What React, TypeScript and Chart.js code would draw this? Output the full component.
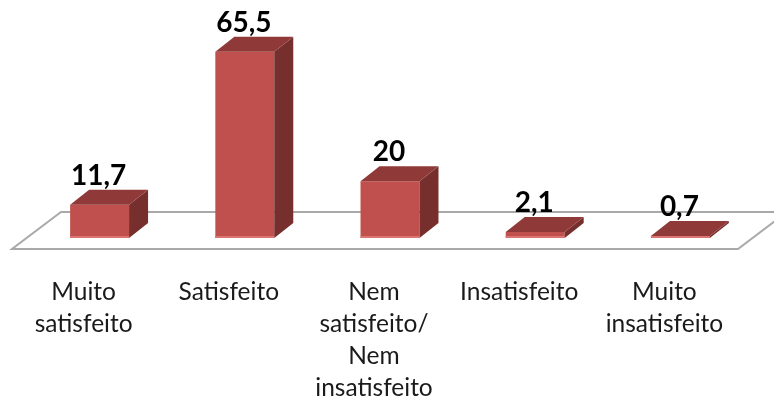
import React, { useEffect, useRef } from "react";
import { Chart, registerables } from "chart.js";

Chart.register(...registerables);

const categories: string[][] = [
  ["Muito", "satisfeito"],
  ["Satisfeito"],
  ["Nem", "satisfeito/", "Nem", "insatisfeito"],
  ["Insatisfeito"],
  ["Muito", "insatisfeito"],
];
const values: number[] = [11.7, 65.5, 20, 2.1, 0.7];
const valueLabels: string[] = ["11,7", "65,5", "20", "2,1", "0,7"];

const DEPTH_X = 19;
const DEPTH_Y = 15;
const FONT = "Lato, 'Open Sans', sans-serif";
const LABEL_SHIFT = -16;

const bars3d = {
  id: "bars3d",
  beforeDraw(chart: any) {
    const scale = chart.scales.x;
    if (scale.$shifted === scale._labelItems && scale._labelItems) return;
    const items = scale.getLabelItems(chart.chartArea);
    items.forEach((it: any) => {
      it.options.translation = [it.options.translation[0] + LABEL_SHIFT, it.options.translation[1]];
    });
    scale.$shifted = items;
  },
  beforeDatasetsDraw(chart: any) {
    const { ctx, chartArea } = chart;
    const bottom = chartArea.bottom;
    const frontY = bottom + 11;
    const backY = bottom - 26;
    const left = chartArea.left - 15;
    const right = chartArea.right - 15;
    ctx.save();
    ctx.strokeStyle = "#a9a9a9";
    ctx.lineWidth = 2;
    ctx.beginPath();
    ctx.moveTo(chart.width, backY);
    ctx.lineTo(left + 49, backY);
    ctx.lineTo(left, frontY);
    ctx.lineTo(right, frontY);
    ctx.lineTo(right + 49, backY);
    ctx.stroke();
    ctx.restore();
  },
  afterDatasetsDraw(chart: any) {
    const { ctx } = chart;
    const meta = chart.getDatasetMeta(0);
    ctx.save();
    meta.data.forEach((bar: any, i: number) => {
      const l = bar.x - bar.width / 2;
      const r = bar.x + bar.width / 2;
      const t = bar.y;
      const b = bar.base;
      // side face
      ctx.fillStyle = "#772f2e";
      ctx.beginPath();
      ctx.moveTo(r, t);
      ctx.lineTo(r + DEPTH_X, t - DEPTH_Y);
      ctx.lineTo(r + DEPTH_X, b - DEPTH_Y);
      ctx.lineTo(r, b);
      ctx.closePath();
      ctx.fill();
      // top face
      ctx.fillStyle = "#8f3a38";
      ctx.beginPath();
      ctx.moveTo(l, t);
      ctx.lineTo(l + DEPTH_X, t - DEPTH_Y);
      ctx.lineTo(r + DEPTH_X, t - DEPTH_Y);
      ctx.lineTo(r, t);
      ctx.closePath();
      ctx.fill();
      // light lower edge of the front face
      ctx.fillStyle = "#dc7471";
      ctx.fillRect(l, b - 2, r - l, 2);
      // value label
      ctx.fillStyle = "#000000";
      ctx.font = `bold 28px ${FONT}`;
      ctx.textAlign = "center";
      ctx.textBaseline = "alphabetic";
      ctx.fillText(valueLabels[i], bar.x - 1, t - 20);
    });
    ctx.restore();
  },
};

export default function App() {
  const ref = useRef<HTMLCanvasElement>(null);
  useEffect(() => {
    const chart = new Chart(ref.current!, {
      type: "bar",
      data: {
        labels: categories,
        datasets: [
          {
            data: values,
            backgroundColor: "#c0504d",
            barPercentage: 0.406,
            categoryPercentage: 1,
          },
        ],
      },
      options: {
        animation: false,
        responsive: false,
        layout: { padding: { left: 27, right: 21, top: 39, bottom: 0 } },
        plugins: { legend: { display: false }, tooltip: { enabled: false } },
        scales: {
          x: {
            afterFit(scale: any) {
              scale.height = 165;
              scale.paddingLeft = 0;
              scale.paddingRight = 0;
            },
            grid: { display: false, drawTicks: false },
            border: { display: false },
            ticks: {
              padding: 38,
              maxRotation: 0,
              autoSkip: false,
              color: "#1a1a1a",
              font: { family: FONT, size: 24.5, lineHeight: 1.306 },
            },
          },
          y: { display: false, min: 0, max: 70 },
        },
      },
      plugins: [bars3d],
    });
    return () => chart.destroy();
  }, []);
  return (
    <div style={{ position: "absolute", left: 0, top: 0, width: 774, height: 403, background: "#fff" }}>
      <canvas ref={ref} width={774} height={403} style={{ display: "block" }} />
    </div>
  );
}
